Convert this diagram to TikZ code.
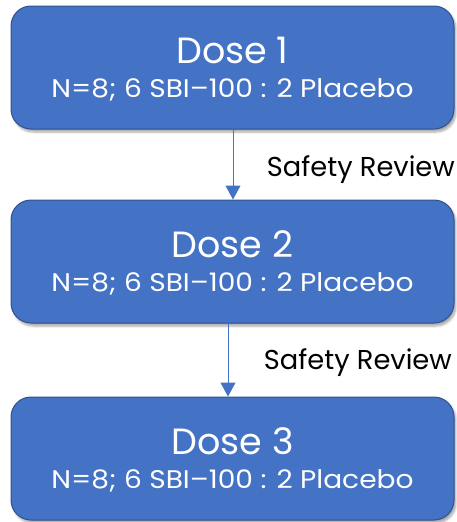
\documentclass[tikz,border=0pt]{standalone}
\usepackage{fontspec}
\setmainfont{Poppins}
\usetikzlibrary{arrows.meta,shadows.blur}
\definecolor{boxblue}{HTML}{4472C4}
\definecolor{boxedge}{HTML}{2F528F}
\tikzset{
  dosebox/.style={draw=boxedge, line width=1pt, fill=boxblue, rounded corners=20pt,
    minimum width=443pt, minimum height=123pt, inner sep=0pt,
    blur shadow={shadow xshift=2pt, shadow yshift=-3pt, shadow opacity=35, shadow blur steps=6}},
  dosetitle/.style={text=white, font=\fontsize{36.5}{40}\selectfont, inner sep=0pt},
  dosesub/.style={text=white, font=\fontsize{25.5}{28}\selectfont, inner sep=0pt},
  reviewlabel/.style={text=black, font=\fontsize{27.3}{30}\selectfont, inner sep=0pt, anchor=base east},
  flow/.style={draw=boxblue, line width=1pt, -{Triangle[length=14pt,width=15pt]}}
}
\begin{document}
\begin{tikzpicture}[x=1pt,y=1pt]
\useasboundingbox (0,0) rectangle (457,-522);
\node[dosebox] (b1) at (232.5,-67.5) {};
\node[dosebox] (b2) at (232.5,-261.5) {};
\node[dosebox] (b3) at (232.5,-458.5) {};
\foreach \b/\n in {b1/1,b2/2,b3/3}{
  \node[dosetitle, anchor=base] (t\n) at ([yshift=4pt]\b.center) {Dose \n};
  \node[dosesub, anchor=base] (s\n) at ([yshift=-29.5pt]\b.center) {\scalebox{1.1}[1]{N=8; 6 SBI–100 : 2 Placebo}};
}
\draw[flow] ([xshift=0.5pt]b1.south) -- ([xshift=0.5pt]b2.north);
\draw[flow] ([xshift=-4.5pt]b2.south) -- ([xshift=-4.5pt]b3.north);
\node[reviewlabel] (r1) at (455,-176) {Safety Review};
\node[reviewlabel] (r2) at (452,-369) {Safety Review};
\end{tikzpicture}
\end{document}
